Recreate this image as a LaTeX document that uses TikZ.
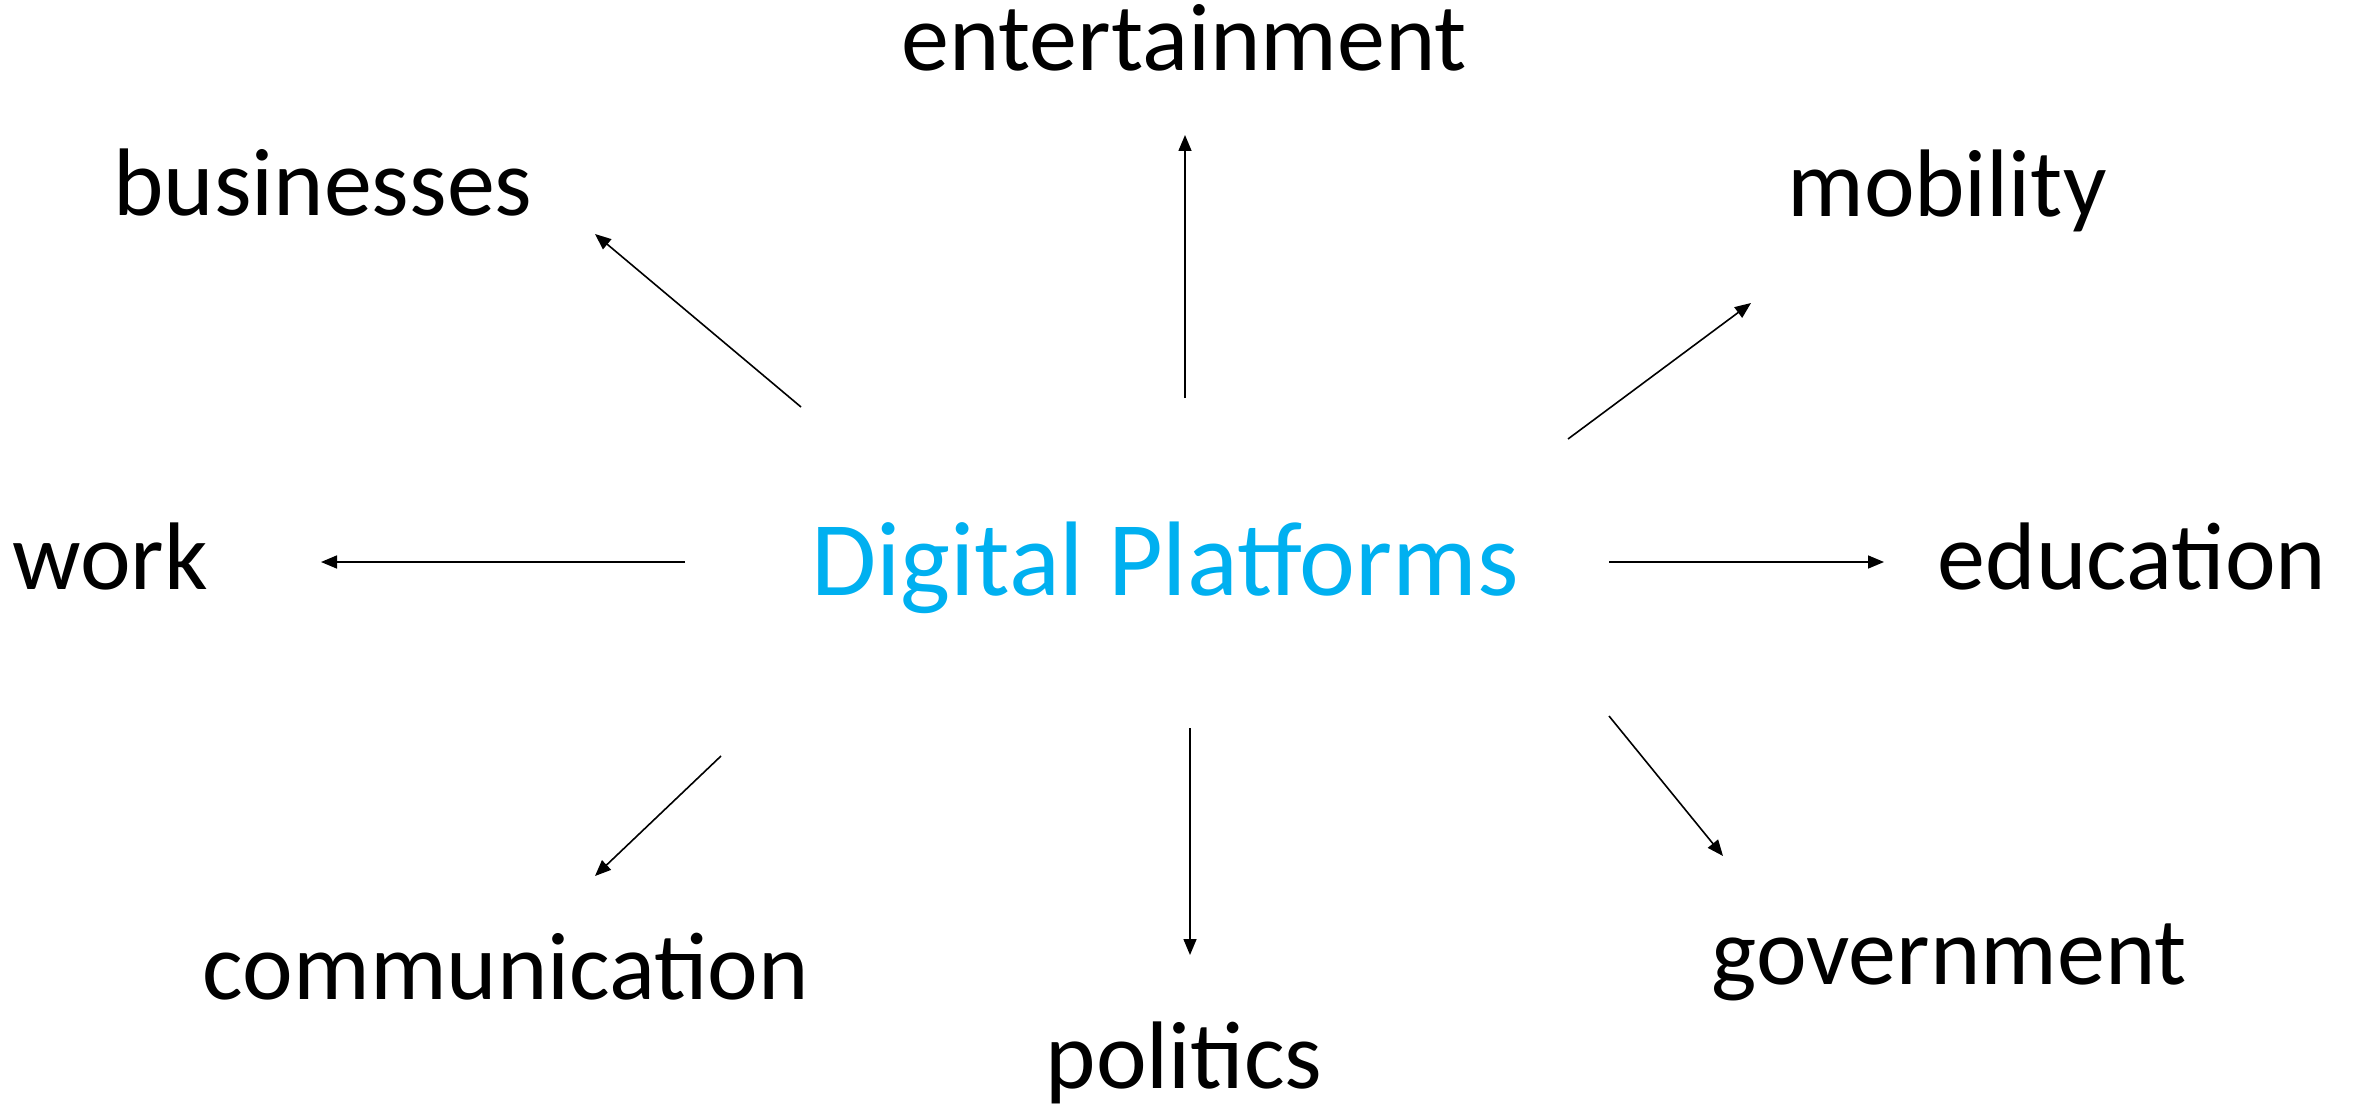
\documentclass[tikz,border=0pt]{standalone}
\usepackage{fontspec}
\setmainfont{Carlito}
\usetikzlibrary{arrows.meta}
\definecolor{dpblue}{HTML}{00B0F0}
\tikzset{
  lbl/.style={anchor=base, inner sep=0pt, font=\fontsize{96}{110}\selectfont},
  ctr/.style={anchor=base, inner sep=0pt, text=dpblue, font=\fontsize{106}{120}\selectfont},
  arr/.style={line width=1.6pt, -{Triangle[length=16pt,width=13pt]}}
}
\begin{document}
\begin{tikzpicture}[x=1pt,y=-1pt]
\useasboundingbox (0,0) rectangle (2355,1110);
\node[ctr] (dp) at (1165,595) {Digital Platforms};
\node[lbl] (ent) at (1184,71) {entertainment};
\node[lbl] (bus) at (323,215) {businesses};
\node[lbl] (mob) at (1947,216) {mobility};
\node[lbl] (work) at (110,589) {work};
\node[lbl] (edu) at (2132,589) {education};
\node[lbl] (com) at (506,999) {communication};
\node[lbl] (pol) at (1184,1088) {politics};
\node[lbl] (gov) at (1949,984) {government};
% arrow ends
\coordinate (busS) at (801,407);  \coordinate (busE) at (595,234);
\coordinate (entS) at (1185,398); \coordinate (entE) at (1185,135);
\coordinate (mobS) at (1568,439); \coordinate (mobE) at (1751,303);
\coordinate (workS) at (685,562); \coordinate (workE) at (321,562);
\coordinate (eduS) at (1609,562); \coordinate (eduE) at (1884,562);
\coordinate (comS) at (721,756);  \coordinate (comE) at (595,876);
\coordinate (polS) at (1190,728); \coordinate (polE) at (1190,955);
\coordinate (govS) at (1609,716); \coordinate (govE) at (1723,856);
\draw[arr] (busS) -- (busE);
\draw[arr] (entS) -- (entE);
\draw[arr] (mobS) -- (mobE);
\draw[arr] (workS) -- (workE);
\draw[arr] (eduS) -- (eduE);
\draw[arr] (comS) -- (comE);
\draw[arr] (polS) -- (polE);
\draw[arr] (govS) -- (govE);
\end{tikzpicture}
\end{document}
